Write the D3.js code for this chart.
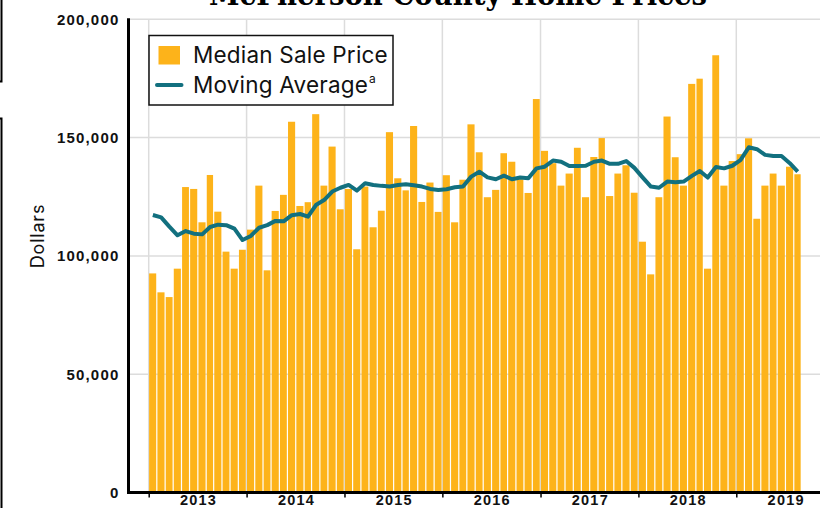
<!DOCTYPE html>
<html>
<head>
<meta charset="utf-8">
<script src="https://d3js.org/d3.v7.min.js"></script>
<style>
  body { margin: 0; background: #fff; }
  svg { display: block; font-family: Inter, "DejaVu Sans", sans-serif; }
</style>
</head>
<body>
<div id="chart"></div>
<script>
// monthly data, Jul 2012 - Feb 2019
const startMonth = new Date(2012, 6, 1);
const medianPrice = [
  92600, 84600, 82600, 94600, 129100, 128300, 114200, 134200, 118700, 101800,
  94600, 102600, 111100, 129700, 93900, 119000, 125800, 156700, 121100, 122700,
  159900, 129700, 146200, 119700, 128300, 102800, 129300, 112100, 119100, 152300,
  132800, 127700, 154900, 122800, 131000, 118600, 134100, 114200, 132200, 155600,
  143800, 124800, 127900, 143400, 139800, 132400, 126600, 166300, 144400, 139200,
  129700, 134800, 145700, 124800, 141800, 149800, 125300, 134800, 138300, 126700,
  106000, 92200, 124800, 158900, 141700, 129700, 172700, 174900, 94600, 184800,
  129700, 140100, 143000, 149700, 115700, 129700, 134800, 129700, 137700, 134500
];
const movingAverage = [
  117300, 116300, 112400, 108700, 110500, 109400, 109100, 112200, 113200, 113000,
  111500, 106700, 108400, 111900, 113000, 114800, 114600, 117200, 117700, 116600,
  121500, 123600, 127200, 128800, 130000, 127600, 130700, 130000, 129600, 129300,
  130000, 130300, 129900, 129300, 128300, 127900, 128200, 129000, 129300, 133500,
  135600, 133200, 132400, 133900, 132400, 133100, 132800, 137000, 137700, 140300,
  139800, 138000, 138000, 138100, 139800, 140300, 138900, 138900, 140100, 137200,
  133200, 129300, 128800, 131400, 131100, 131400, 133800, 135900, 133100, 137600,
  137000, 138100, 140500, 145900, 145100, 142700, 142200, 142200, 139200, 135600
];
const yTicks = [0, 50000, 100000, 150000, 200000];
const yearLabels = [2013, 2014, 2015, 2016, 2017, 2018, 2019];
const legendLabels = ["Median Sale Price", "Moving Average"];

const months = medianPrice.map((d, i) => d3.timeMonth.offset(startMonth, i));

const width = 820, height = 508;
const barColor = "#fdb31a", lineColor = "#12707f";

const svg = d3.select("#chart").append("svg")
    .attr("width", width)
    .attr("height", height);

const x = d3.scaleTime()
    .domain([new Date(2012, 6, 1), new Date(2018, 6, 1)])
    .range([148.7, 736.3]);
const y = d3.scaleLinear()
    .domain([0, 200000])
    .range([492.5, 19.3]);

const plotLeft = 128.5, plotRight = width;

// grid
svg.append("g").selectAll("line")
    .data(yTicks.filter(d => d > 0))
    .join("line")
    .attr("x1", plotLeft).attr("x2", plotRight)
    .attr("y1", d => y(d)).attr("y2", d => y(d))
    .attr("stroke", "#dcdcdc").attr("stroke-width", 1.5);

const midYears = d3.range(2012, 2019).map(yr => new Date(yr, 6, 1));
svg.append("g").selectAll("line")
    .data(midYears)
    .join("line")
    .attr("x1", d => x(d)).attr("x2", d => x(d))
    .attr("y1", y(200000)).attr("y2", y(0))
    .attr("stroke", "#dcdcdc").attr("stroke-width", 1.5);

// bars
svg.append("g").selectAll("rect")
    .data(medianPrice)
    .join("rect")
    .attr("x", (d, i) => x(months[i]) + 0.4)
    .attr("width", (d, i) => x(d3.timeMonth.offset(months[i], 1)) - x(months[i]) - 1.2)
    .attr("y", d => y(d))
    .attr("height", d => y(0) - y(d))
    .attr("fill", barColor);

// moving average
const line = d3.line()
    .x((d, i) => (x(months[i]) + x(d3.timeMonth.offset(months[i], 1))) / 2)
    .y(d => y(d));
svg.append("path")
    .datum(movingAverage)
    .attr("d", line)
    .attr("fill", "none")
    .attr("stroke", lineColor)
    .attr("stroke-width", 4)
    .attr("stroke-linejoin", "round");

// x axis
svg.append("line")
    .attr("x1", plotLeft - 1.5).attr("x2", plotRight)
    .attr("y1", y(0)).attr("y2", y(0))
    .attr("stroke", "#000").attr("stroke-width", 3);

svg.append("g")
    .attr("transform", `translate(0,${y(0)})`)
    .call(d3.axisBottom(x).tickValues(midYears).tickFormat("").tickSize(5))
    .call(g => g.select(".domain").remove())
    .call(g => g.selectAll(".tick line").attr("stroke", "#000").attr("stroke-width", 1.5));

svg.append("g")
    .attr("transform", `translate(0,${y(0)})`)
    .call(d3.axisBottom(x).tickValues(yearLabels.map(yr => new Date(yr, 0, 1)))
        .tickFormat(d3.timeFormat("%Y")).tickSize(0).tickPadding(12.5))
    .call(g => g.select(".domain").remove())
    .call(g => g.selectAll("text")
        .attr("fill", "#111")
        .attr("dy", 0)
        .style("font-size", "14.5px")
        .style("font-weight", 600)
        .style("letter-spacing", "1.2px"));

// y axis
svg.append("line")
    .attr("x1", plotLeft).attr("x2", plotLeft)
    .attr("y1", y(200000) - 1).attr("y2", y(0) + 1.5)
    .attr("stroke", "#000").attr("stroke-width", 3);

svg.append("g")
    .attr("transform", `translate(${plotLeft},0)`)
    .call(d3.axisLeft(y).tickValues(yTicks).tickFormat(d3.format(",")).tickSize(0).tickPadding(9))
    .call(g => g.select(".domain").remove())
    .call(g => g.selectAll("text")
        .attr("fill", "#111")
        .style("font-size", "15px")
        .style("font-weight", 600)
        .style("letter-spacing", "1.2px"));

svg.append("text")
    .attr("transform", "translate(44,236) rotate(-90)")
    .attr("text-anchor", "middle")
    .style("font-size", "18px")
    .style("letter-spacing", "0.8px")
    .attr("fill", "#111")
    .text("Dollars");

// title (cropped at top)
svg.append("text")
    .attr("x", 458)
    .attr("y", 5)
    .attr("text-anchor", "middle")
    .attr("textLength", 498)
    .attr("lengthAdjust", "spacingAndGlyphs")
    .style("font-family", "'DejaVu Serif', serif")
    .style("font-weight", 900)
    .style("font-size", "30px")
    .attr("fill", "#000")
    .text("McPherson County Home Prices");

// left panel edges
svg.append("rect").attr("x", -20).attr("y", -20).attr("width", 21.5).attr("height", 101.5)
    .attr("fill", "none").attr("stroke", "#000").attr("stroke-width", 2);
svg.append("rect").attr("x", -20).attr("y", 118.5).attr("width", 21.5).attr("height", 420)
    .attr("fill", "none").attr("stroke", "#000").attr("stroke-width", 2);

// legend
const legend = svg.append("g");
legend.append("rect")
    .attr("x", 149).attr("y", 35.5).attr("width", 244).attr("height", 69.5)
    .attr("fill", "#fff").attr("stroke", "#111").attr("stroke-width", 1.5);
legend.append("rect")
    .attr("x", 158.5).attr("y", 46).attr("width", 21.5).attr("height", 18.5)
    .attr("fill", barColor);
legend.append("line")
    .attr("x1", 157).attr("x2", 181.5).attr("y1", 85).attr("y2", 85)
    .attr("stroke", lineColor).attr("stroke-width", 4).attr("stroke-linecap", "round");
legend.append("text")
    .attr("x", 193).attr("y", 62.8)
    .style("font-size", "22.5px").attr("fill", "#111")
    .style("letter-spacing", "0.2px")
    .text(legendLabels[0]);
const maText = legend.append("text")
    .attr("x", 193).attr("y", 93.3)
    .style("font-size", "22.5px").attr("fill", "#111")
    .style("letter-spacing", "0.2px")
    .text(legendLabels[1]);
maText.append("tspan")
    .attr("dy", -10).attr("dx", 1)
    .style("font-size", "12px")
    .text("a");
</script>
</body>
</html>
